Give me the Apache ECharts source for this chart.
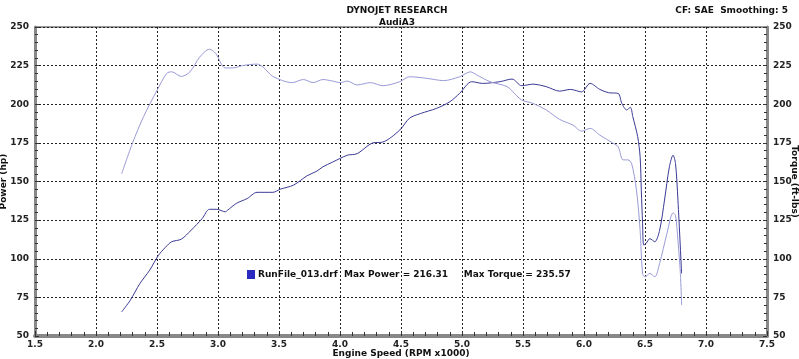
<!DOCTYPE html>
<html>
<head>
<meta charset="utf-8">
<script src="https://cdn.jsdelivr.net/npm/echarts@6/dist/echarts.min.js"></script>
<style>
  html, body { margin: 0; padding: 0; background: #fff; }
  #chart { width: 799px; height: 359px; }
</style>
</head>
<body>
<div id="chart"></div>
<script>
var powerRpm = [2.21, 2.28, 2.36, 2.44, 2.51, 2.57, 2.62, 2.70, 2.78, 2.87, 2.93, 2.99, 3.06, 3.08, 3.15, 3.24, 3.32, 3.45, 3.51, 3.62, 3.73, 3.81, 3.86, 3.94, 4.06, 4.14, 4.27, 4.35, 4.49, 4.57, 4.66, 4.79, 4.90, 4.98, 5.08, 5.17, 5.31, 5.41, 5.49, 5.58, 5.69, 5.80, 5.89, 5.98, 6.05, 6.13, 6.20, 6.28, 6.31, 6.35, 6.38, 6.40, 6.44, 6.46, 6.47, 6.48, 6.49, 6.51, 6.54, 6.58, 6.62, 6.66, 6.70, 6.73, 6.75, 6.77, 6.80];
var powerHp = [65.6, 73, 84, 92.6, 102, 107.5, 111, 112.7, 118.5, 126, 132, 132, 130.4, 131.5, 135.8, 139, 143, 143, 145, 147.7, 153.7, 156.7, 159.5, 162.6, 167, 168, 175, 175.5, 183.3, 191, 194, 197.3, 201.6, 207, 214.6, 213.5, 214.6, 216.3, 212, 213, 211.4, 208.5, 209.6, 208, 213.5, 209.6, 207.5, 207, 200.6, 196.3, 198, 192, 179, 166, 144, 123, 108.8, 110, 113, 111, 118.5, 138, 159.5, 167, 161.7, 138, 90.5];

var torqueRpm = [2.21, 2.30, 2.39, 2.50, 2.58, 2.62, 2.70, 2.77, 2.85, 2.93, 2.98, 3.06, 3.12, 3.20, 3.32, 3.37, 3.45, 3.61, 3.70, 3.78, 3.86, 3.94, 4.00, 4.06, 4.14, 4.25, 4.35, 4.49, 4.57, 4.71, 4.85, 4.98, 5.07, 5.12, 5.23, 5.37, 5.43, 5.49, 5.58, 5.69, 5.80, 5.91, 5.98, 6.05, 6.13, 6.24, 6.28, 6.32, 6.36, 6.39, 6.43, 6.46, 6.48, 6.50, 6.54, 6.58, 6.62, 6.68, 6.73, 6.75, 6.77, 6.79, 6.80];
var torqueFt = [155, 175, 192, 209, 220, 221, 218, 221, 230.5, 235.6, 233, 223.5, 223.5, 225, 226, 224, 218, 214, 216, 214, 216, 215, 214, 215, 212.5, 214, 212, 214.6, 217.8, 216.8, 215.3, 217.8, 221, 219, 214.6, 211.4, 207, 202.7, 200.6, 196.3, 190.2, 186.5, 182.6, 184.4, 180, 174.7, 172.5, 164, 164, 161.7, 144.4, 118.5, 90.5, 88.3, 90.5, 88.3, 97, 116.4, 129.7, 128, 112, 90.5, 70];

var maxPower = '216.31';
var maxTorque = '235.57';
var runName = 'RunFile_013.drf';

var font = 'DejaVu Sans';

function pairs(xs, ys) {
  return xs.map(function (x, i) { return [x, ys[i]]; });
}

var chart = echarts.init(document.getElementById('chart'));

var gridLine = { show: true, lineStyle: { color: '#222', type: [2, 2], width: 1 } };
var axisLabelStyle = { color: '#222', fontFamily: font, fontWeight: 'bold', fontSize: 9 };
var nameStyle = { color: '#111', fontFamily: font, fontWeight: 'bold', fontSize: 9 };

var yAxisBase = function (pos, name, rotate, gap) {
  return {
    type: 'value',
    position: pos,
    min: 50,
    max: 250,
    interval: 25,
    name: name,
    nameLocation: 'middle',
    nameRotate: rotate,
    nameGap: gap,
    nameMoveOverlap: false,
    nameTextStyle: nameStyle,
    axisLine: { show: true, lineStyle: { color: '#888', width: 3 } },
    axisTick: { show: true, inside: true, length: 4, lineStyle: { color: '#333' } },
    minorTick: { show: true, splitNumber: 5, length: 3, lineStyle: { color: '#333' } },
    axisLabel: Object.assign({ margin: 6 }, axisLabelStyle),
    splitLine: pos === 'left' ? gridLine : { show: false }
  };
};

chart.setOption({
  animation: false,
  backgroundColor: '#fff',
  title: [{
    text: 'DYNOJET RESEARCH',
    left: 392,
    top: 1,
    textAlign: 'center',
    textStyle: { fontFamily: font, fontWeight: 'bold', fontSize: 9, color: '#111' }
  }, {
    text: 'AudiA3',
    left: 392,
    top: 13,
    textAlign: 'center',
    textStyle: { fontFamily: font, fontWeight: 'bold', fontSize: 9, color: '#111' }
  }, {
    text: 'CF: SAE  Smoothing: 5',
    right: 6,
    top: 1,
    textStyle: { fontFamily: font, fontWeight: 'bold', fontSize: 9, color: '#111' }
  }],
  legend: {
    data: [runName],
    left: 242,
    top: 265,
    itemWidth: 8,
    itemHeight: 9,
    itemGap: 4,
    icon: 'rect',
    formatter: function (name) {
      return name + '  Max Power = ' + maxPower + '     Max Torque = ' + maxTorque;
    },
    textStyle: { fontFamily: font, fontWeight: 'bold', fontSize: 9, color: '#111', padding: [0, 0, 0, -2] }
  },
  grid: {
    left: 35,
    right: 32,
    top: 27,
    bottom: 23,
    show: true,
    borderColor: '#999',
    borderWidth: 2,
    outerBoundsMode: 'none'
  },
  xAxis: {
    type: 'value',
    min: 1.5,
    max: 7.5,
    interval: 0.5,
    name: 'Engine Speed (RPM x1000)',
    nameLocation: 'middle',
    nameGap: 13,
    nameMoveOverlap: false,
    nameTextStyle: nameStyle,
    axisLine: { show: true, onZero: false, lineStyle: { color: '#888', width: 4 } },
    axisTick: { show: true, inside: true, length: 5, lineStyle: { color: '#333' } },
    minorTick: { show: true, splitNumber: 5, length: 4, lineStyle: { color: '#333' } },
    axisLabel: Object.assign({
      margin: 4,
      formatter: function (v) { return v.toFixed(1); }
    }, axisLabelStyle),
    splitLine: gridLine
  },
  yAxis: [
    yAxisBase('left', 'Power (hp)', 90, 27),
    yAxisBase('right', 'Torque (ft-lbs)', -90, 23)
  ],
  series: [{
    name: runName,
    type: 'line',
    yAxisIndex: 0,
    data: pairs(powerRpm, powerHp),
    showSymbol: false,
    smooth: 0.3,
    itemStyle: { color: '#2a2ac0' },
    lineStyle: { color: '#3a3a96', width: 1 }
  }, {
    name: 'Torque',
    type: 'line',
    yAxisIndex: 1,
    data: pairs(torqueRpm, torqueFt),
    showSymbol: false,
    smooth: 0.3,
    itemStyle: { color: '#9a9ad8' },
    lineStyle: { color: '#9a9ad8', width: 1 }
  }]
});
</script>
</body>
</html>
